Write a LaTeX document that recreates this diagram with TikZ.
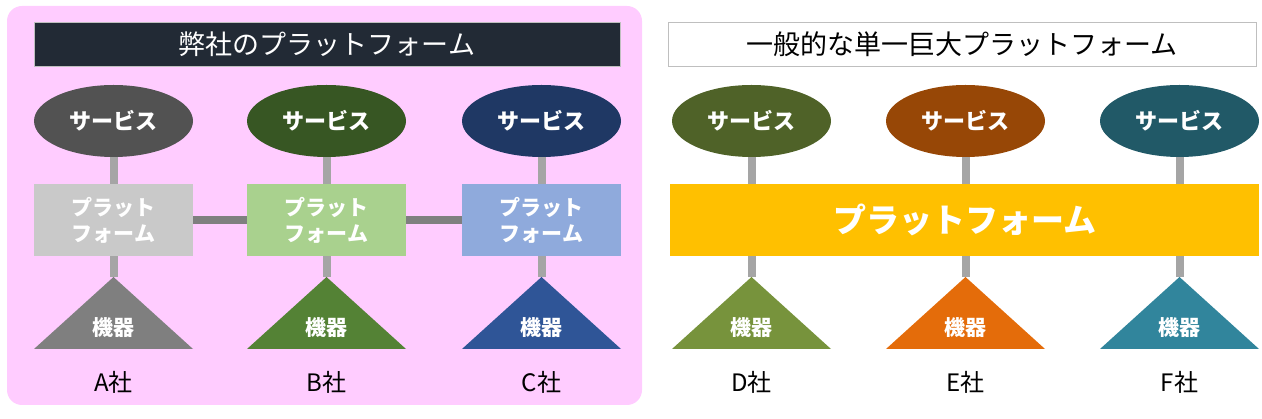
\documentclass[tikz,border=0pt]{standalone}
\usepackage{fontspec}
\setmainfont{Noto Sans CJK JP}
\usetikzlibrary{shapes.geometric}
\definecolor{pinkbg}{HTML}{FFCCFF}
\definecolor{titledark}{HTML}{222A35}
\definecolor{boxborder}{HTML}{BFBFBF}
\definecolor{ellA}{HTML}{525252}
\definecolor{ellB}{HTML}{375623}
\definecolor{ellC}{HTML}{1F3864}
\definecolor{rectA}{HTML}{C9C9C9}
\definecolor{rectB}{HTML}{A9D18E}
\definecolor{rectC}{HTML}{8FAADC}
\definecolor{triA}{HTML}{7F7F7F}
\definecolor{triB}{HTML}{548235}
\definecolor{triC}{HTML}{2F5597}
\definecolor{ellD}{HTML}{4F6228}
\definecolor{ellE}{HTML}{974706}
\definecolor{ellF}{HTML}{215967}
\definecolor{triD}{HTML}{77933C}
\definecolor{triE}{HTML}{E46C0A}
\definecolor{triF}{HTML}{31859C}
\definecolor{bigyellow}{HTML}{FFC000}
\definecolor{stemgray}{HTML}{A5A5A5}
\definecolor{linkgray}{HTML}{7F7F7F}
\tikzset{
  titlebox/.style={draw=boxborder, line width=0.8pt, minimum height=44pt, inner sep=0pt,
    font=\fontsize{27}{30}\selectfont},
  svc/.style={ellipse, minimum width=159pt, minimum height=72pt, inner sep=0pt,
    text=white, font=\fontsize{22}{26}\selectfont\bfseries},
  plat/.style={rectangle, minimum width=159pt, minimum height=72pt, inner sep=0pt,
    text=white, align=center, font=\fontsize{21}{26}\selectfont\bfseries},
  kiki/.style={text=white, inner sep=0pt, font=\fontsize{21}{24}\selectfont\bfseries},
  comp/.style={text=black, inner sep=0pt, font=\fontsize{24}{28}\selectfont},
  stem/.style={draw=stemgray, line width=8pt},
  link/.style={draw=linkgray, line width=8pt}
}
\begin{document}
\begin{tikzpicture}[x=1pt,y=-1pt]
\useasboundingbox (0,0) rectangle (1262,419);
% panels
\fill[pinkbg, rounded corners=15pt] (7,6) rectangle (642,405);
\node[titlebox, fill=titledark, text=white, minimum width=586pt] (tl) at (327,44) {弊社のプラットフォーム};
\node[titlebox, fill=white, text=black, minimum width=588pt] (tr) at (962,44) {一般的な単一巨大プラットフォーム};
% left side
\node[svc, fill=ellA] (sA) at (113.5,121) {サービス};
\node[svc, fill=ellB] (sB) at (326.5,121) {サービス};
\node[svc, fill=ellC] (sC) at (541.5,121) {サービス};
\node[plat, fill=rectA] (pA) at (113.5,220) {プラット\\フォーム};
\node[plat, fill=rectB] (pB) at (326.5,220) {プラット\\フォーム};
\node[plat, fill=rectC] (pC) at (541.5,220) {プラット\\フォーム};
\fill[triA] (113.5,277) -- (193,349) -- (34,349) -- cycle;
\fill[triB] (326.5,277) -- (406,349) -- (247,349) -- cycle;
\fill[triC] (541.5,277) -- (621,349) -- (462,349) -- cycle;
\coordinate (tA) at (113.5,277);
\coordinate (tB) at (326.5,277);
\coordinate (tC) at (541.5,277);
\node[kiki] (kA) at (113.5,328) {機器};
\node[kiki] (kB) at (326.5,328) {機器};
\node[kiki] (kC) at (541.5,328) {機器};
\node[comp] (cA) at (113.5,382) {A社};
\node[comp] (cB) at (326.5,382) {B社};
\node[comp] (cC) at (541.5,382) {C社};
\draw[stem] (sA.south) -- (pA.north);
\draw[stem] (sB.south) -- (pB.north);
\draw[stem] (sC.south) -- (pC.north);
\draw[stem] (pA.south) -- (tA);
\draw[stem] (pB.south) -- (tB);
\draw[stem] (pC.south) -- (tC);
\draw[link] (pA.east) -- (pB.west);
\draw[link] (pB.east) -- (pC.west);
% right side
\node[svc, fill=ellD] (sD) at (751.5,121) {サービス};
\node[svc, fill=ellE] (sE) at (965.5,121) {サービス};
\node[svc, fill=ellF] (sF) at (1179.5,121) {サービス};
\node[rectangle, fill=bigyellow, minimum width=589pt, minimum height=72pt, inner sep=0pt,
  text=white, font=\fontsize{33}{36}\selectfont\bfseries] (big) at (964.5,220) {プラットフォーム};
\fill[triD] (751.5,277) -- (831,349) -- (672,349) -- cycle;
\fill[triE] (965.5,277) -- (1045,349) -- (886,349) -- cycle;
\fill[triF] (1179.5,277) -- (1259,349) -- (1100,349) -- cycle;
\coordinate (tD) at (751.5,277);
\coordinate (tE) at (965.5,277);
\coordinate (tF) at (1179.5,277);
\coordinate (bD) at (751.5,256);
\coordinate (bE) at (965.5,256);
\coordinate (bF) at (1179.5,256);
\coordinate (uD) at (751.5,184);
\coordinate (uE) at (965.5,184);
\coordinate (uF) at (1179.5,184);
\node[kiki] (kD) at (751.5,328) {機器};
\node[kiki] (kE) at (965.5,328) {機器};
\node[kiki] (kF) at (1179.5,328) {機器};
\node[comp] (cD) at (751.5,382) {D社};
\node[comp] (cE) at (965.5,382) {E社};
\node[comp] (cF) at (1179.5,382) {F社};
\draw[stem] (sD.south) -- (uD);
\draw[stem] (sE.south) -- (uE);
\draw[stem] (sF.south) -- (uF);
\draw[stem] (bD) -- (tD);
\draw[stem] (bE) -- (tE);
\draw[stem] (bF) -- (tF);
\end{tikzpicture}
\end{document}
